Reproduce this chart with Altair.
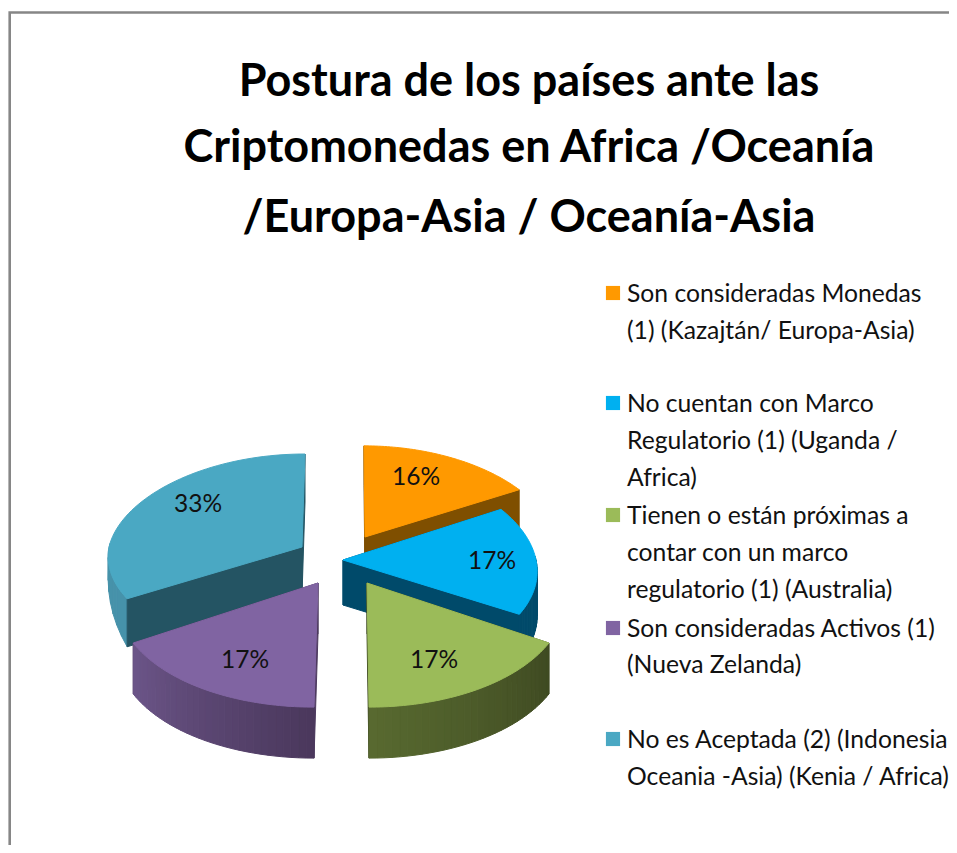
import math
import altair as alt
import pandas as pd

W, H = 941, 837
OFF = 8

title_lines = ["Postura de los países ante las", "Criptomonedas en Africa /Oceanía", "/Europa-Asia / Oceanía-Asia"]
categories = ["Orange", "Blue", "Green", "Purple", "Teal"]
counts = [1, 1, 1, 1, 2]
pct_labels = ["16%", "17%", "17%", "17%", "33%"]
legend_lines = [
    ["Son consideradas Monedas", "(1) (Kazajtán/ Europa-Asia)"],
    ["No cuentan con Marco", "Regulatorio (1) (Uganda /", "Africa)"],
    ["Tienen o están próximas a", "contar con un marco", "regulatorio (1) (Australia)"],
    ["Son consideradas Activos (1)", "(Nueva Zelanda)"],
    ["No es Aceptada (2) (Indonesia", "Oceania -Asia) (Kenia / Africa)"],
]
top_colors = ["#FF9900", "#00B0F0", "#9BBB59", "#8064A2", "#4AA8C3"]
inner_colors = ["#7F4F00", "#004A6A", "#3F4A22", "#4D3A5F", "#245463"]
outer_from = ["#7F4F00", "#004A6A", "#586A30", "#6C5589", "#4692AA"]
outer_to = ["#7F4F00", "#004A6A", "#3F4A22", "#4A385C", "#4692AA"]

# Layout of the exploded, tilted pie (apex, radii, thickness, lean, wall taper per slice)
layout = {
    "Orange": dict(ax=365, ay=537, rx=189, ry=98, d=40, lean=-1, taper=0),
    "Blue": dict(ax=343, ay=560, rx=193, ry=105, d=45, lean=0, taper=0),
    "Green": dict(ax=367, ay=583, rx=198, ry=116, d=51, lean=2, taper=0),
    "Purple": dict(ax=318, ay=583, rx=200, ry=116, d=51, lean=-4, taper=0),
    "Teal": dict(ax=302, ay=547, rx=193, ry=100, d=48, lean=3, taper=60),
}
P, Q = 0.11, 0.07

label_pos = [(416, 478), (492, 562), (434, 661), (245, 661), (198, 505)]
legend_x_sq, legend_x_text = 613, 627
legend_sq_y = [293, 403, 515, 628, 739]
legend_text_y = [[302, 339], [412, 449, 486], [524, 561, 598], [637, 673], [748, 785]]
title_y = [96, 162, 232]
TITLE_X = 529


def point(cfg, th, down=0.0):
    s, c = math.sin(th), math.cos(th)
    x = cfg["ax"] + cfg["rx"] * s * (1 - P * c) + cfg["lean"] * abs(c)
    y = cfg["ay"] - cfg["ry"] * c * (1 - Q * c) + down
    return [x - OFF, y - OFF]


def mix(a, b, t):
    ca = [int(a[i:i + 2], 16) for i in (1, 3, 5)]
    cb = [int(b[i:i + 2], 16) for i in (1, 3, 5)]
    return "#%02x%02x%02x" % tuple(round(u + (v - u) * t) for u, v in zip(ca, cb))


def feature(ring, fill):
    return {
        "type": "Feature",
        "properties": {"fill": fill},
        "geometry": {"type": "Polygon", "coordinates": [ring + [ring[0]]]},
    }


def slice_features(i, start, end):
    name = categories[i]
    cfg = layout[name]
    apex = [cfg["ax"] - OFF, cfg["ay"] - OFF]
    d = cfg["d"]
    n = 30
    # outer wall, in strips
    outer = []
    for k in range(n):
        t0 = start + (end - start) * k / n
        t1 = start + (end - start) * (k + 1) / n
        if math.cos((t0 + t1) / 2) > 0.02:
            continue
        p0, p1 = point(cfg, t0), point(cfg, t1)
        q0 = point(cfg, t0, d - cfg["taper"] * (t0 - start))
        q1 = point(cfg, t1, d - cfg["taper"] * (t1 - start))
        # lighter at the left of each front-facing wall, darker to its right
        outer.append(feature([p0, p1, q1, q0], mix(outer_from[i], outer_to[i], 1 - (k + 0.5) / n)))
    # inner walls
    inner = []
    for th in (start, end):
        p = point(cfg, th)
        inner.append(feature([apex, p, [p[0], p[1] + d], [apex[0], apex[1] + d]], inner_colors[i]))
    # top face
    arc = [point(cfg, start + (end - start) * k / 60) for k in range(61)]
    top = [feature([apex] + arc, top_colors[i])]
    # the two front slices show only their outer wall; the back ones show their cut faces
    walls = inner + outer if name in ("Green", "Purple") else outer + inner
    return walls + top


total = sum(counts)
angles = []
acc = 0
for c in counts:
    angles.append((acc / total * 2 * math.pi, (acc + c) / total * 2 * math.pi))
    acc += c

features = []
for i in [4, 0, 1, 3, 2]:
    features += slice_features(i, *angles[i])

pie = (
    alt.Chart(
        alt.InlineData(
            values={"type": "FeatureCollection", "features": features},
            format=alt.DataFormat(type="json", property="features"),
        )
    )
    .mark_geoshape(strokeWidth=1)
    .encode(
        fill=alt.Fill("properties.fill:N", scale=None),
        stroke=alt.Stroke("properties.fill:N", scale=None),
    )
    .project(type="identity", scale=1, translate=[0, 0])
)

xs = alt.Scale(domain=[0, W], range=[0, W], nice=False, zero=False)
ys = alt.Scale(domain=[0, H], range=[0, H], nice=False, zero=False)


def xy():
    return dict(
        x=alt.X("x:Q", scale=xs, axis=None),
        y=alt.Y("y:Q", scale=ys, axis=None),
    )


frame = pd.DataFrame({"x": [9.7 - OFF, 9.7 - OFF, W], "y": [H, 12.5 - OFF, 12.5 - OFF]})
frame["o"] = range(3)
frame_c = alt.Chart(frame).mark_line(color="#868686", strokeWidth=2.6, clip=False).encode(order="o:Q", **xy())

title_df = pd.DataFrame({"t": title_lines, "x": [TITLE_X - OFF] * 3, "y": [v - OFF for v in title_y]})
title_c = alt.Chart(title_df).mark_text(
    font="Lato", fontWeight="bold", fontSize=45, color="#000000", align="center", baseline="alphabetic"
).encode(text="t:N", **xy())

lab_df = pd.DataFrame({"t": pct_labels, "x": [p[0] - OFF for p in label_pos], "y": [p[1] - OFF for p in label_pos]})
lab_c = alt.Chart(lab_df).mark_text(
    font="Lato", fontSize=24.5, color="#111111", align="center", baseline="middle"
).encode(text="t:N", **xy())

sq_df = pd.DataFrame({"x": [legend_x_sq - OFF] * 5, "y": [v - OFF for v in legend_sq_y], "c": top_colors})
sq_c = alt.Chart(sq_df).mark_point(shape="square", filled=True, size=200, opacity=1).encode(
    color=alt.Color("c:N", scale=None), **xy()
)

rows = []
for lines, ys_ in zip(legend_lines, legend_text_y):
    for ln, yy in zip(lines, ys_):
        rows.append({"t": ln, "x": legend_x_text - OFF, "y": yy - OFF})
leg_c = alt.Chart(pd.DataFrame(rows)).mark_text(
    font="Lato", fontSize=24.7, color="#111111", align="left", baseline="alphabetic"
).encode(text="t:N", **xy())

chart = (
    alt.layer(pie, frame_c, sq_c, lab_c, leg_c, title_c)
    .resolve_scale(color="independent")
    .properties(width=W, height=H, padding=0, autosize=alt.AutoSizeParams(type="none"), background="white")
    .configure_view(stroke=None)
)

chart.save("out.html", embed_options={"renderer": "svg", "actions": False})
